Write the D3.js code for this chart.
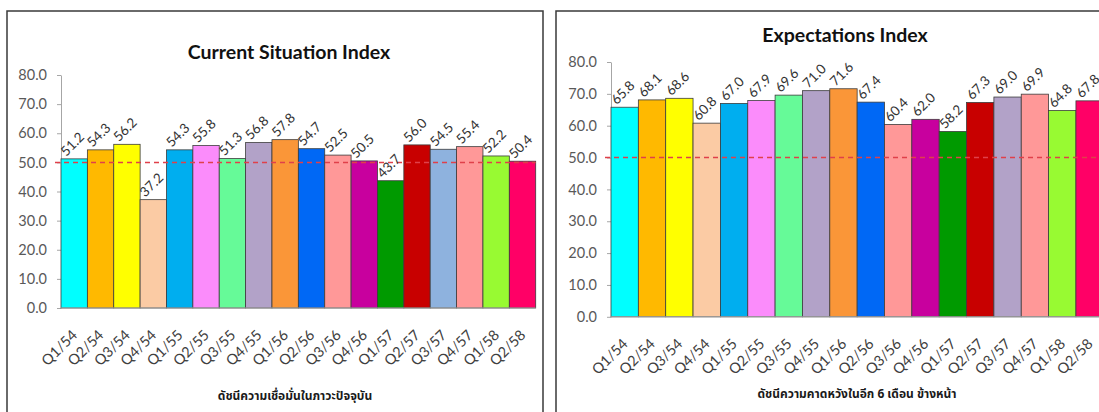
<!DOCTYPE html>
<html>
<head>
<meta charset="utf-8">
<script src="https://cdn.jsdelivr.net/npm/d3@7"></script>
<style>
  body { margin: 0; background: #ffffff; }
  svg { display: block; }
</style>
</head>
<body>
<svg id="chart" width="1099" height="412"></svg>
<script>
// Quarterly consumer confidence indices (Thai Buddhist-era years)
const quarters = ["Q1/54","Q2/54","Q3/54","Q4/54","Q1/55","Q2/55","Q3/55","Q4/55","Q1/56",
                  "Q2/56","Q3/56","Q4/56","Q1/57","Q2/57","Q3/57","Q4/57","Q1/58","Q2/58"];
const currentIndex = [51.2,54.3,56.2,37.2,54.3,55.8,51.3,56.8,57.8,54.7,52.5,50.5,43.7,56.0,54.5,55.4,52.2,50.4];
const expectIndex  = [65.8,68.1,68.6,60.8,67.0,67.9,69.6,71.0,71.6,67.4,60.4,62.0,58.2,67.3,69.0,69.9,64.8,67.8];
const currentColors = ["#00FFFF","#FFB900","#FFFF00","#FBCBA4","#00AEEF","#FB8CFB","#66FA98","#B2A2C8","#FA9638",
                       "#0068F5","#FF9898","#C8009E","#009A00","#C80000","#8EB2DE","#FF9898","#98FA32","#FF0066"];
const expectColors  = ["#00FFFF","#FFB900","#FFFF00","#FBCBA4","#00AEEF","#FB8CFB","#66FA98","#B2A2C8","#FA9638",
                       "#0068F5","#FF9898","#C8009E","#009A00","#C80000","#B2A2C8","#FF9898","#98FA32","#FF0066"];
const yTicks = [0, 10, 20, 30, 40, 50, 60, 70, 80];
const threshold = 50;

const panels = [
  {
    title: "Current Situation Index",
    caption: "ดัชนีความเชื่อมั่นในภาวะปัจจุบัน",
    values: currentIndex, colors: currentColors,
    frame: { left: 7, right: 543, top: 11 },
    plot: { left: 61, right: 535.7, top: 75, bottom: 308 },
    titlePos: [289, 59], captionPos: [295, 400]
  },
  {
    title: "Expectations Index",
    caption: "ดัชนีความคาดหวังในอีก 6 เดือน ข้างหน้า",
    values: expectIndex, colors: expectColors,
    frame: { left: 556, right: 1130, top: 11 },
    plot: { left: 611, right: 1103.3, top: 62, bottom: 316.8 },
    titlePos: [845, 42], captionPos: [857, 398]
  }
];

const svg = d3.select("#chart");
const latin = "Lato, 'Open Sans', sans-serif";
const thai = "'Noto Sans Thai', 'Noto Looped Thai', Loma, Garuda, 'Tlwg Typo', 'Noto Sans', sans-serif";
const fmt = d3.format(".1f");

panels.forEach(p => {
  const g = svg.append("g");

  // chart frame (open at the bottom edge of the page)
  g.append("path")
    .attr("d", `M${p.frame.left},430 V${p.frame.top} H${p.frame.right} V430`)
    .attr("fill", "none")
    .attr("stroke", "#3a3a3a")
    .attr("stroke-width", 1.5);

  const x = d3.scaleBand().domain(quarters).range([p.plot.left, p.plot.right]).padding(0);
  const y = d3.scaleLinear().domain([0, 80]).range([p.plot.bottom, p.plot.top]);

  // title
  g.append("text")
    .attr("x", p.titlePos[0]).attr("y", p.titlePos[1])
    .attr("text-anchor", "middle")
    .attr("font-family", latin).attr("font-weight", "bold").attr("font-size", 19.5)
    .attr("fill", "#111")
    .text(p.title);

  // y axis
  const yAxis = d3.axisLeft(y).tickValues(yTicks).tickFormat(fmt).tickSize(4).tickSizeOuter(0).tickPadding(10);
  const ya = g.append("g").attr("transform", `translate(${p.plot.left},0)`).call(yAxis);
  ya.select(".domain").attr("stroke", "#a6a6a6");
  ya.selectAll(".tick line").attr("stroke", "#a6a6a6");
  ya.selectAll(".tick text")
    .attr("font-family", latin).attr("font-size", 14.5).attr("fill", "#595959");

  // bars
  g.selectAll("rect.bar").data(p.values).join("rect")
    .attr("class", "bar")
    .attr("x", (d, i) => x(quarters[i]))
    .attr("y", d => y(d))
    .attr("width", x.bandwidth())
    .attr("height", d => y(0) - y(d))
    .attr("fill", (d, i) => p.colors[i])
    .attr("stroke", "#3c3c3c")
    .attr("stroke-width", 0.8);

  // category baseline
  g.append("line")
    .attr("x1", p.plot.left).attr("x2", p.plot.right)
    .attr("y1", y(0)).attr("y2", y(0))
    .attr("stroke", "#a6a6a6");

  // 50-point reference line
  g.append("line")
    .attr("x1", p.plot.left - 6).attr("x2", p.plot.right)
    .attr("y1", y(threshold)).attr("y2", y(threshold))
    .attr("stroke", "#e0404a")
    .attr("stroke-width", 1.5)
    .attr("stroke-dasharray", "5,4");

  // value labels
  g.selectAll("text.val").data(p.values).join("text")
    .attr("class", "val")
    .attr("transform", (d, i) => `translate(${x(quarters[i]) + x.bandwidth() / 2 - 8},${y(d) - 2}) rotate(-45)`)
    .attr("font-family", latin).attr("font-size", 13.5).attr("fill", "#333")
    .text(d => fmt(d));

  // category labels
  g.selectAll("text.cat").data(quarters).join("text")
    .attr("class", "cat")
    .attr("transform", d => `translate(${x(d) + x.bandwidth() / 2 + 4},${y(0) + 28}) rotate(-45)`)
    .attr("text-anchor", "end")
    .attr("font-family", latin).attr("font-size", 14.5).attr("fill", "#404040")
    .text(d => d);

  // caption under the chart
  g.append("text")
    .attr("x", p.captionPos[0]).attr("y", p.captionPos[1])
    .attr("text-anchor", "middle")
    .attr("font-family", thai).attr("font-weight", "bold").attr("font-size", 12)
    .attr("fill", "#1a1a1a")
    .text(p.caption);
});
</script>
</body>
</html>
